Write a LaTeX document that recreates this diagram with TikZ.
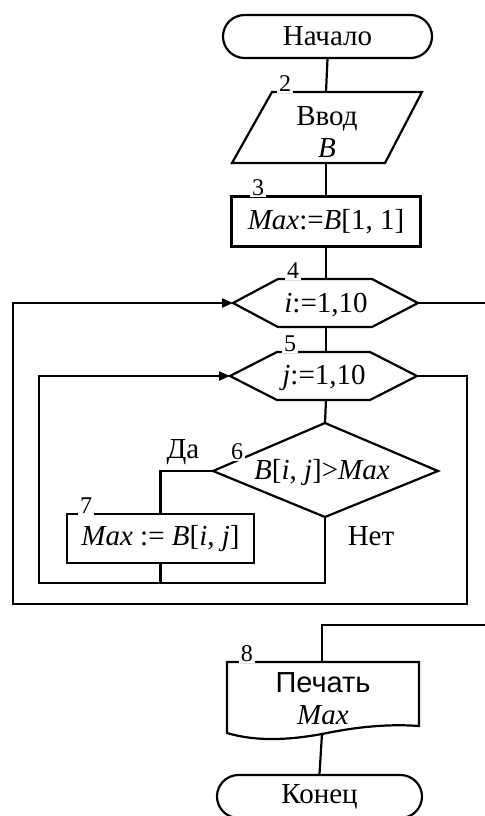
\documentclass[tikz,border=0pt]{standalone}
\usepackage{fontspec}
\setmainfont{Liberation Serif}
\newfontfamily\sansf{Liberation Sans}
\usetikzlibrary{shapes.misc,arrows.meta}
\begin{document}
\begin{tikzpicture}[x=0.5pt,y=-0.5pt,
  line width=1.1pt,
  every node/.style={font=\fontsize{14.5}{17}\selectfont, inner sep=0pt},
  lbl/.style={font=\fontsize{12}{13}\selectfont, fill=white, inner sep=0.9pt, anchor=base},
  term/.style={draw, rounded rectangle, minimum height=21.5pt},
  box/.style={draw, minimum height=25pt},
  txt/.style={align=center},
  arr/.style={-{Triangle[length=5.5pt,width=4.5pt]}}]
\clip (0,0) rectangle (485,816);
% 1 start
\node[term, minimum width=104.5pt] (start) at (327.5,36.5) {Начало};
% 2 input
\draw (272,92) -- (422,92) -- (385,163) -- (232,163) -- cycle;
\coordinate (b2t) at (326,92);
\coordinate (b2b) at (326,163);
\node[txt] (b2) at (327,132) {Ввод\\[-1pt]\textit{B}};
\node[lbl] (n2) at (285,91) {2};
% 3 assignment
\node[box, minimum width=94.5pt] (b3) at (326,221.5) {\textit{Max}:=\textit{B}[1, 1]};
\node[lbl] (n3) at (258,195) {3};
% 4 loop i
\draw (233,303) -- (278,279) -- (372,279) -- (418,303) -- (372,327) -- (278,327) -- cycle;
\coordinate (b4t) at (326,279);
\coordinate (b4b) at (326,327);
\coordinate (b4l) at (233,303);
\coordinate (b4r) at (418,303);
\node (b4) at (326,305) {\textit{i}:=1,10};
\node[lbl] (n4) at (293,278) {4};
% 5 loop j
\draw (230,376) -- (277,352) -- (370,352) -- (417,376) -- (370,400) -- (277,400) -- cycle;
\coordinate (b5t) at (326,352);
\coordinate (b5b) at (326,400);
\coordinate (b5l) at (230,376);
\coordinate (b5r) at (417,376);
\node (b5) at (324,378) {\textit{j}:=1,10};
\node[lbl] (n5) at (290,351) {5};
% 6 condition
\draw (325,423) -- (438,471) -- (325,517) -- (213,471) -- cycle;
\coordinate (b6t) at (325,423);
\coordinate (b6b) at (325,517);
\coordinate (b6l) at (213,471);
\node (b6) at (322,473) {\textit{B}[\textit{i}, \textit{j}]>\textit{Max}};
\node[lbl] (n6) at (237,459) {6};
\node (yes) at (183,452) {Да};
\node (no) at (371,536) {Нет};
% 7 assignment
\node[box, minimum width=93.5pt, minimum height=24.5pt] (b7) at (160.5,538.5) {\textit{Max} := \textit{B}[\textit{i}, \textit{j}]};
\node[lbl] (n7) at (86,513) {7};
% 8 output
\draw (227,662) -- (419,662) -- (419,726)
  .. controls (392,724) and (362,726) .. (327,733)
  .. controls (292,740) and (257,742) .. (227,733) -- cycle;
\coordinate (b8t) at (322,662);
\coordinate (b8b) at (322,734);
\node[txt] (b8) at (323,699) {{\sansf Печать}\\[-1pt]\textit{Max}};
\node[lbl] (n8) at (247,661) {8};
% end
\node[term, minimum width=102.5pt] (end) at (319.5,796.5) {Конец};
% connectors
\draw (start.south) -- (b2t);
\draw (b2b) -- (b3.north);
\draw (b3.south) -- (b4t);
\draw (b4b) -- (b5t);
\draw (b5b) -- (b6t);
\draw (b6l) -| (b7.north);
\coordinate (j1) at (39,583);
\draw (b7.south) -- (b7.south |- j1);
\draw[arr] (b6b) |- (j1) |- (b5l);
\coordinate (o1) at (467,604);
\coordinate (o2) at (13,604);
\draw[arr] (b5r) -| (o1) -- (o2) |- (b4l);
\coordinate (x1) at (490,303);
\coordinate (x2) at (490,625);
\draw (b4r) -- (x1);
\draw (x2) -| (b8t);
\draw (b8b) -- (end.north);
\end{tikzpicture}
\end{document}
